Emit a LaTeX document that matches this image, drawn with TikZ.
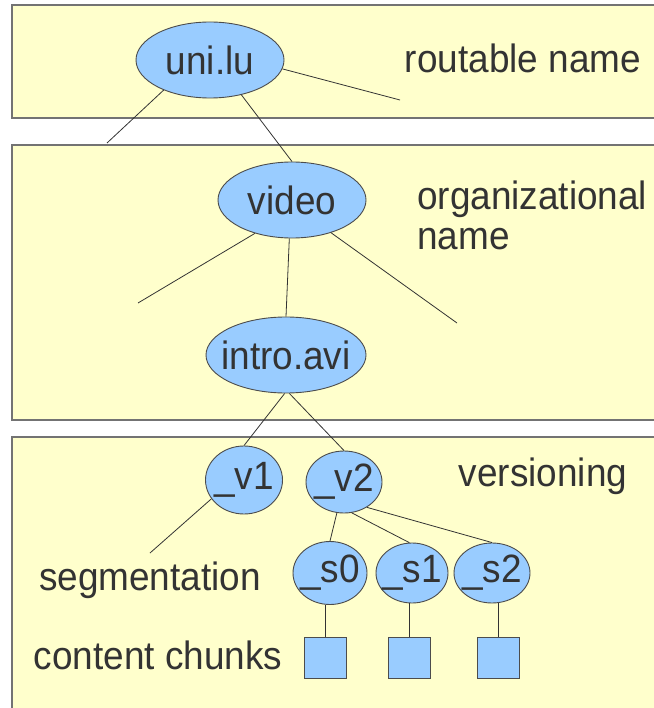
\documentclass[tikz,border=0pt]{standalone}
\usepackage{fontspec}
\setmainfont{Liberation Sans}[FakeStretch=0.935]
\usetikzlibrary{shapes.geometric}
\definecolor{panelfill}{HTML}{FFFFCC}
\definecolor{nodefill}{HTML}{99CCFF}
\definecolor{inkgray}{HTML}{333333}
\begin{document}
\begin{tikzpicture}[x=1pt, y=-1pt, font=\fontsize{39.5}{40}\selectfont, text=inkgray,
  panel/.style={draw=black!55, fill=panelfill, line width=1.2pt},
  namenode/.style={ellipse, draw=black!70, fill=nodefill, inner sep=0pt, line width=0.9pt, minimum height=76, label=center:#1},
  vernode/.style={namenode=#1, minimum width=76, minimum height=62},
  chunk/.style={draw=black!70, fill=nodefill, inner sep=0pt, line width=0.9pt, minimum width=42, minimum height=41},
  link/.style={draw=inkgray, line width=0.8pt}]
\useasboundingbox (0,0) rectangle (653,708);
\draw[panel] (12,5) rectangle (665,118);
\draw[panel] (12,145) rectangle (665,420);
\draw[panel] (12,437) rectangle (665,720);

\node[namenode=uni.lu, minimum width=148] (unilu) at (210,60) {};
\node (routable) at (523,58) {routable name};
\node[namenode=video, minimum width=148] (video) at (292,200) {};
\node[anchor=west, align=left, inner sep=0pt] (organizational) at (417,215) {organizational\\name};
\node[namenode=intro.avi, minimum width=160] (intro) at (286,355) {};
\node[vernode=\_v1, minimum width=77, minimum height=68] (v1) at (244,480) {};
\node[vernode=\_v2] (v2) at (344,482) {};
\node (versioning) at (543,476) {versioning};
\node (segmentation) at (150,580) {segmentation};
\node[vernode=\_s0, minimum width=74, minimum height=63] (s0) at (330,573) {};
\node[vernode=\_s1, minimum width=72, minimum height=60] (s1) at (412,573) {};
\node[vernode=\_s2, minimum height=60] (s2) at (492,573) {};
\node (chunks) at (158,655) {content chunks};
\node[chunk] (c0) at (325,658) {};
\node[chunk] (c1) at (409,658) {};
\node[chunk] (c2) at (498,658) {};

\coordinate (ul) at (107,143);
\coordinate (ur) at (400,100);
\coordinate (vl) at (138,303);
\coordinate (vr) at (457,323);
\coordinate (sl) at (150,553);

\draw[link] (unilu.-147) -- (ul);
\draw[link] (unilu.-48) -- (video.north);
\draw[link] (unilu.-7) -- (ur);
\draw[link] (video.-138) -- (vl);
\draw[link] (video.-94) -- (intro.north);
\draw[link] (video.-40) -- (vr);
\draw[link] (intro.-92) -- (v1.north);
\draw[link] (intro.-85) -- (v2.north);
\draw[link] (v1.-150) -- (sl);
\draw[link] (v2.-103) -- (s0.north);
\draw[link] (v2.-76) -- (s1.95);
\draw[link] (v2.-48) -- (s2.north);
\draw[link] (c0.north) -- (c0.north |- s0.south);
\draw[link] (c1.north) -- (c1.north |- s1.south);
\draw[link] (c2.north) -- (c2.north |- s2.south);
\end{tikzpicture}
\end{document}
